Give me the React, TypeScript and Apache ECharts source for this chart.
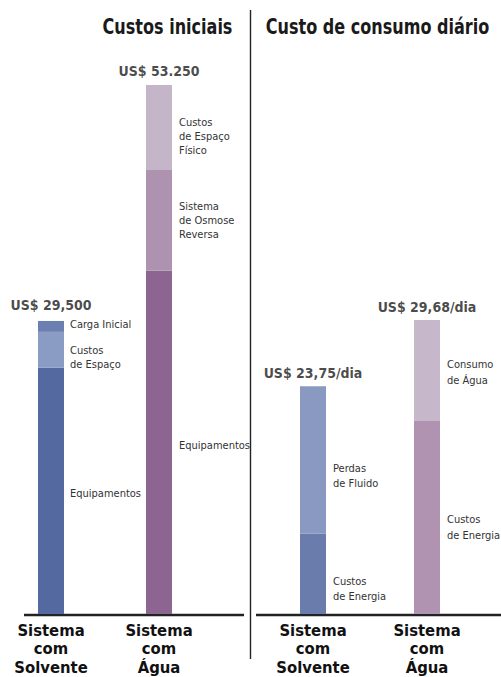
import React, { useEffect, useRef } from "react";
import * as echarts from "echarts";

// ---- data ----
const initialCategories = ["Sistema\ncom\nSolvente", "", "Sistema\ncom\nÁgua", ""];
const solventeInitialSegments = ["Equipamentos", "Custos\nde Espaço", "Carga Inicial"];
const solventeInitialValues = [24800, 3600, 1100];
const aguaInitialSegments = ["Equipamentos", "Sistema\nde Osmose\nReversa", "Custos\nde Espaço\nFísico"];
const aguaInitialValues = [34550, 10150, 8550];
const initialTotals = ["US$ 29,500", "US$ 53.250"];

const dailyCategories = ["Sistema\ncom\nSolvente", "Sistema\ncom\nÁgua"];
const solventeDailySegments = ["Custos\nde Energia", "Perdas\nde Fluido"];
const solventeDailyValues = [8.1, 14.9];
const aguaDailySegments = ["Custos\nde Energia", "Consumo\nde Água"];
const aguaDailyValues = [19.5, 10.2];
const dailyTotals = ["US$ 23,75/dia", "US$ 29,68/dia"];

const titles = ["Custos iniciais", "Custo de consumo diário"];

// ---- styles ----
const FONT = "'Liberation Sans Narrow', 'DejaVu Sans Condensed', sans-serif";
const solventeInitialColors = ["#5369a0", "#8a9cc4", "#6b7fb0"];
const aguaInitialColors = ["#8c6690", "#ae93b0", "#c5b5c9"];
const solventeDailyColors = ["#6a7cab", "#8999c2"];
const aguaDailyColors = ["#b093b0", "#c7b7cb"];
const solventeInitialOffsets = [3, 8, -2];
const aguaInitialOffsets = [3.5, 0, 9];
const solventeDailyOffsets = [15, 16];
const aguaDailyOffsets = [10, 2];
const initialTotalDistances = [9, 7];
const dailyTotalDistances = [6, 6];

const sum = (a: number[]) => a.reduce((s, v) => s + v, 0);

function segLabel(text: string, dy: number, lh: number, dist: number) {
  return {
    show: true,
    position: "right",
    distance: dist,
    offset: [0, dy],
    formatter: text,
    fontFamily: FONT,
    fontSize: 11,
    lineHeight: lh,
    color: "#333",
    align: "left",
  };
}

export default function App() {
  const ref = useRef<HTMLDivElement>(null);
  useEffect(() => {
    document.body.style.margin = "0";
    if (!ref.current) return;
    const chart = echarts.init(ref.current, undefined, { renderer: "svg" });

    const series: any[] = [];
    // initial costs (grid 0)
    for (let i = 0; i < 3; i++) {
      series.push({
        type: "bar",
        name: "inicial-" + i,
        xAxisIndex: 0,
        yAxisIndex: 0,
        stack: "inicial",
        barWidth: 26,
        data: [
          {
            value: solventeInitialValues[i],
            itemStyle: { color: solventeInitialColors[i] },
            label: segLabel(solventeInitialSegments[i], solventeInitialOffsets[i], 14, 6),
          },
          "-",
          {
            value: aguaInitialValues[i],
            itemStyle: { color: aguaInitialColors[i] },
            label: segLabel(aguaInitialSegments[i], aguaInitialOffsets[i], 14, 7),
          },
          "-",
        ],
      });
    }
    series.push({
      type: "scatter",
      xAxisIndex: 0,
      yAxisIndex: 0,
      symbolSize: 0,
      data: [
        {
          value: sum(solventeInitialValues),
          label: { show: true, position: "top", distance: initialTotalDistances[0], formatter: initialTotals[0] },
        },
        "-",
        {
          value: sum(aguaInitialValues),
          label: { show: true, position: "top", distance: initialTotalDistances[1], formatter: initialTotals[1] },
        },
        "-",
      ],
      label: { fontFamily: FONT, fontSize: 14, fontWeight: "bold", color: "#1a1a1a" },
    });
    // daily costs (grid 1)
    for (let i = 0; i < 2; i++) {
      series.push({
        type: "bar",
        name: "diario-" + i,
        xAxisIndex: 1,
        yAxisIndex: 1,
        stack: "diario",
        barWidth: 26,
        data: [
          {
            value: solventeDailyValues[i],
            itemStyle: { color: solventeDailyColors[i] },
            label: segLabel(solventeDailySegments[i], solventeDailyOffsets[i], 15.5, 7),
          },
          {
            value: aguaDailyValues[i],
            itemStyle: { color: aguaDailyColors[i] },
            label: segLabel(aguaDailySegments[i], aguaDailyOffsets[i], 15.5, 7),
          },
        ],
      });
    }
    series.push({
      type: "scatter",
      xAxisIndex: 1,
      yAxisIndex: 1,
      symbolSize: 0,
      data: [
        {
          value: sum(solventeDailyValues),
          label: { show: true, position: "top", distance: dailyTotalDistances[0], formatter: dailyTotals[0] },
        },
        {
          value: sum(aguaDailyValues),
          label: { show: true, position: "top", distance: dailyTotalDistances[1], formatter: dailyTotals[1] },
        },
      ],
      label: { fontFamily: FONT, fontSize: 14, fontWeight: "bold", color: "#1a1a1a" },
    });

    const xAxisCommon = {
      type: "category",
      axisLine: { show: false },
      axisTick: { show: false },
      splitLine: { show: false },
      axisLabel: {
        interval: 0,
        margin: 7,
        fontFamily: FONT,
        fontSize: 16.5,
        fontWeight: "bold",
        lineHeight: 18.5,
        color: "#111",
      },
    };
    const yAxisCommon = {
      type: "value",
      min: 0,
      axisLine: { show: false },
      axisTick: { show: false },
      axisLabel: { show: false },
      splitLine: { show: false },
    };

    const titleStyle = (text: string) => ({
      text,
      font: "bold 21px " + FONT,
      fill: "#1a1a1a",
      align: "center",
      verticalAlign: "middle",
      textAlign: "center",
      textVerticalAlign: "middle",
    });

    chart.setOption({
      animation: false,
      backgroundColor: "#ffffff",
      grid: [
        { left: 24, width: 216, top: 18, bottom: 63 },
        { left: 256, width: 228, top: 20, bottom: 63 },
      ],
      xAxis: [
        { ...xAxisCommon, gridIndex: 0, data: initialCategories },
        { ...xAxisCommon, gridIndex: 1, data: dailyCategories },
      ],
      yAxis: [
        { ...yAxisCommon, gridIndex: 0, max: 60000 },
        { ...yAxisCommon, gridIndex: 1, max: 60 },
      ],
      graphic: [
        { type: "line", shape: { x1: 24, y1: 615, x2: 244, y2: 615 }, style: { stroke: "#222", lineWidth: 2.3 } },
        { type: "line", shape: { x1: 256, y1: 615, x2: 501, y2: 615 }, style: { stroke: "#222", lineWidth: 2.3 } },
        { type: "line", shape: { x1: 250.5, y1: 10, x2: 250.5, y2: 659 }, style: { stroke: "#222", lineWidth: 1.4 } },
        { type: "text", x: 167.5, y: 27, scaleX: 0.85, style: titleStyle(titles[0]) },
        { type: "text", x: 377.5, y: 27, scaleX: 0.85, style: titleStyle(titles[1]) },
      ],
      series,
    });
    return () => chart.dispose();
  }, []);
  return <div ref={ref} style={{ width: 501, height: 677 }} />;
}
